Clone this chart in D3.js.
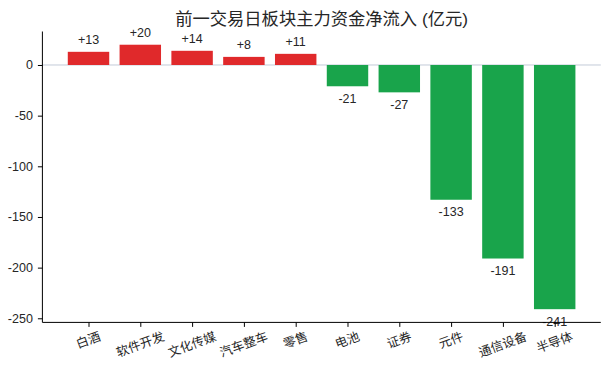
<!DOCTYPE html>
<html><head><meta charset="utf-8">
<script src="https://cdn.jsdelivr.net/npm/d3@7"></script>
<style>
html,body{margin:0;padding:0;background:#fff;}
text{font-family:"Liberation Sans","Noto Sans CJK SC",sans-serif;}
</style></head>
<body>
<svg id="c" width="609" height="369"></svg>
<script>
const categories = ["白酒","软件开发","文化传媒","汽车整车","零售","电池","证券","元件","通信设备","半导体"];
const values = [13, 20, 14, 8, 11, -21, -27, -133, -191, -241];
const labels = ["+13","+20","+14","+8","+11","-21","-27","-133","-191","-241"];
const yTicks = [0, -50, -100, -150, -200, -250];
const title = "前一交易日板块主力资金净流入 (亿元)";

const mL = 42.4, mR = 600.8, mT = 31.5, mB = 322.4;
const svg = d3.select("#c");

const x = d3.scaleLinear().domain([-0.89, categories.length - 1 + 0.89]).range([mL, mR]);
const y = d3.scaleLinear().domain([-254.05, 33.05]).range([mB, mT]);
const bw = x(0.4) - x(-0.4);
const txtColor = "#262626";
const fs = 12.5;

// zero line
svg.append("line").attr("x1", mL).attr("x2", mR)
  .attr("y1", y(0)).attr("y2", y(0))
  .attr("stroke", "#c3cbd9").attr("stroke-width", 1);

// bars
svg.selectAll("rect.bar").data(values).enter().append("rect")
  .attr("class", "bar")
  .attr("x", (d, i) => x(i) - bw / 2)
  .attr("width", bw)
  .attr("y", d => y(Math.max(0, d)))
  .attr("height", d => Math.abs(y(d) - y(0)))
  .attr("fill", d => d >= 0 ? "#e0292b" : "#19a44b");

// value labels
svg.selectAll("text.val").data(values).enter().append("text")
  .attr("class", "val")
  .attr("x", (d, i) => x(i))
  .attr("y", d => d >= 0 ? y(d) - 8 : y(d) + 16.5)
  .attr("text-anchor", "middle")
  .attr("font-size", fs)
  .attr("fill", txtColor)
  .text((d, i) => labels[i]);

// y axis
const yAxis = d3.axisLeft(y).tickValues(yTicks).tickSize(4.5).tickPadding(5).tickFormat(d3.format("d"));
const gy = svg.append("g").attr("transform", `translate(${mL},0)`).call(yAxis);
gy.select(".domain").attr("d", `M0,${mT}V${mB}`).attr("stroke", "#000").attr("stroke-width", 1);
gy.selectAll(".tick line").attr("stroke", "#000");
gy.selectAll(".tick text").attr("font-size", fs).attr("fill", txtColor)
  .attr("font-family", "Liberation Sans, sans-serif").text(d => String(d));

// x axis
const xAxis = d3.axisBottom(x).tickValues(d3.range(categories.length)).tickSize(4.5).tickFormat(() => "");
const gx = svg.append("g").attr("transform", `translate(0,${mB})`).call(xAxis);
gx.select(".domain").attr("d", `M${mL},0H${mR}`).attr("stroke", "#000").attr("stroke-width", 1);
gx.selectAll(".tick line").attr("stroke", "#000");

// rotated category labels
const ang = 20 * Math.PI / 180;
const labTop = mB + 8;
categories.forEach((c, i) => {
  const t = svg.append("text")
    .attr("font-size", fs).attr("fill", txtColor)
    .attr("font-family", "Noto Sans CJK SC, sans-serif")
    .attr("text-anchor", "middle").attr("dominant-baseline", "central")
    .text(c);
  const w = t.node().getComputedTextLength();
  const h = fs;
  const half = (w * Math.sin(ang) + h * Math.cos(ang)) / 2;
  t.attr("transform", `translate(${x(i)},${labTop + half}) rotate(-20)`);
});

// title
svg.append("text").attr("x", (mL + mR) / 2).attr("y", 24.5)
  .attr("text-anchor", "middle").attr("font-size", 17.3).attr("fill", txtColor)
  .attr("font-family", "Liberation Sans, Noto Sans CJK SC, sans-serif")
  .text(title);
</script>
</body></html>
